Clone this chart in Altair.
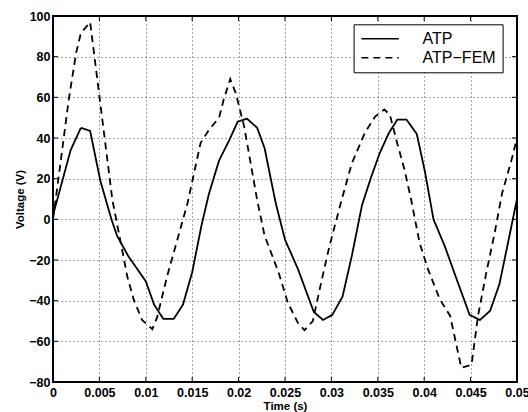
import altair as alt
import pandas as pd

# ---- data ----
series_names = ["ATP", "ATP−FEM"]

atp_t = [0.0, 0.0019, 0.0030, 0.0040, 0.0051, 0.0063, 0.0069, 0.0081, 0.0100, 0.0109,
         0.0119, 0.0130, 0.0140, 0.0150, 0.0160, 0.0168, 0.0179, 0.0190, 0.0199, 0.0209,
         0.0220, 0.0228, 0.0240, 0.0250, 0.0264, 0.0281, 0.0291, 0.0301, 0.0312, 0.0322,
         0.0333, 0.0343, 0.0352, 0.0362, 0.0371, 0.0381, 0.0392, 0.0401, 0.0410, 0.0422,
         0.0435, 0.0449, 0.0460, 0.0471, 0.0481, 0.0491, 0.0500]
atp_v = [2, 34, 45, 43.5, 19, 0, -8, -18, -30.5, -42,
         -49, -49, -42, -26, -3, 12.5, 29, 39, 48, 49.5,
         45, 35, 8, -10, -24.5, -45.5, -49.5, -47, -38, -18,
         7, 21, 32.5, 42.5, 49, 49, 42, 23, 0, -13,
         -29.5, -47, -49.5, -45, -32, -10, 10]

fem_t = [0.0, 0.0008, 0.0017, 0.0025, 0.0030, 0.0040, 0.0064, 0.0073, 0.0080, 0.0087,
         0.0096, 0.0107, 0.0112, 0.0123, 0.0134, 0.0145, 0.0159, 0.0168, 0.0179, 0.0184,
         0.0191, 0.0197, 0.0206, 0.0220, 0.0228, 0.0243, 0.0253, 0.0264, 0.0271, 0.0280,
         0.0289, 0.0298, 0.0311, 0.0322, 0.0336, 0.0347, 0.0357, 0.0363, 0.0370, 0.0379,
         0.0386, 0.0395, 0.0404, 0.0417, 0.0428, 0.0435, 0.0440, 0.0451, 0.0458, 0.0467,
         0.0476, 0.0484, 0.0494, 0.0500]
fem_v = [0, 27.5, 59, 82, 91.5, 97, 9.5, -11.5, -28, -39.5,
         -49.5, -54, -48.5, -28, -10, 8, 37.5, 44, 50, 59,
         69, 62, 45.6, 9.5, -8, -26, -41, -51, -54.5, -50,
         -31, -13, 9.5, 27.5, 42.5, 50.5, 54, 51.5, 39, 24,
         9.5, -11.5, -24.5, -39.5, -47.5, -62.5, -73, -71.5, -47.5, -26,
         -6.5, 13, 29, 40]

x_ticks = [0, 0.005, 0.01, 0.015, 0.02, 0.025, 0.03, 0.035, 0.04, 0.045, 0.05]
y_ticks = [-80, -60, -40, -20, 0, 20, 40, 60, 80, 100]

x_title = "Time (s)"
y_title = "Voltage (V)"

# ---- build tables ----
df = pd.concat([
    pd.DataFrame({"t": atp_t, "v": atp_v, "series": series_names[0]}),
    pd.DataFrame({"t": fem_t, "v": fem_v, "series": series_names[1]}),
], ignore_index=True)
df["idx"] = range(len(df))

xt = pd.DataFrame({"t": x_ticks})
yt = pd.DataFrame({"v": y_ticks})

W, H = 464, 366
FONT = "Liberation Sans"

x_scale = alt.Scale(domain=[0, 0.05], nice=False, zero=False)
y_scale = alt.Scale(domain=[-80, 100], nice=False, zero=False)
x_axis = alt.Axis(values=x_ticks, format="~g", title=x_title,
                  labelPadding=4, titlePadding=2, labelFlush=False)
y_axis = alt.Axis(values=y_ticks, title=y_title,
                  labelPadding=3, titlePadding=3, labelFlush=False)

lines = alt.Chart(df).mark_line(color="black", strokeWidth=1.8, clip=True).encode(
    x=alt.X("t:Q", scale=x_scale, axis=x_axis),
    y=alt.Y("v:Q", scale=y_scale, axis=y_axis),
    strokeDash=alt.StrokeDash(
        "series:N",
        scale=alt.Scale(domain=series_names, range=[[1, 0], [7, 5]]),
        legend=alt.Legend(
            title=None, orient="none", legendX=300.6, legendY=8.3,
            padding=6, fillColor="white", strokeColor="black",
            symbolType="M-2.5,0H2.5", symbolSize=225, symbolStrokeWidth=1.5,
            symbolStrokeColor="black", symbolOffset=12,
            labelFont=FONT, labelFontSize=16, labelColor="black",
            labelOffset=34, rowPadding=2,
        ),
    ),
    order="idx:Q",
)

tick_bottom = alt.Chart(xt).mark_rule(color="black", strokeWidth=1).encode(
    x=alt.X("t:Q", scale=x_scale, axis=x_axis), y=alt.value(H), y2=alt.value(H - 5))
tick_top = alt.Chart(xt).mark_rule(color="black", strokeWidth=1).encode(
    x=alt.X("t:Q", scale=x_scale, axis=x_axis), y=alt.value(0), y2=alt.value(5))
tick_left = alt.Chart(yt).mark_rule(color="black", strokeWidth=1).encode(
    y=alt.Y("v:Q", scale=y_scale, axis=y_axis), x=alt.value(0), x2=alt.value(5))
tick_right = alt.Chart(yt).mark_rule(color="black", strokeWidth=1).encode(
    y=alt.Y("v:Q", scale=y_scale, axis=y_axis), x=alt.value(W - 5), x2=alt.value(W))

chart = alt.layer(tick_bottom, tick_top, tick_left, tick_right, lines).properties(
    width=W, height=H,
    autosize="none",
    padding={"left": 53, "top": 16, "right": 11, "bottom": 30},
    background="white",
).configure_view(
    stroke="black", strokeWidth=2,
).configure_axis(
    domain=False, ticks=False, tickSize=0,
    grid=True, gridColor="#000", gridDash=[1, 3], gridOpacity=0.7, gridWidth=1,
    labelFont=FONT, labelFontWeight="bold", labelFontSize=12.5, labelColor="black",
    titleFont=FONT, titleFontWeight="bold", titleFontSize=11.5, titleColor="black",
)

chart.save("out.html", embed_options={"renderer": "svg", "actions": False})
